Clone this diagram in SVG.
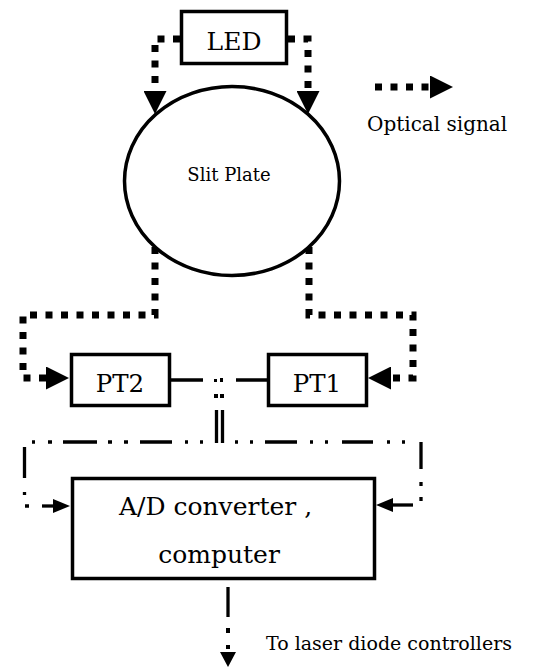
<svg xmlns="http://www.w3.org/2000/svg" width="538" height="669" viewBox="0 0 538 669">
<style>
.box{fill:#fff;stroke:#000;stroke-width:3.5}
.opt{fill:none;stroke:#000;stroke-width:7;stroke-dasharray:7 8.5}
.ln{fill:none;stroke:#000;stroke-width:3.3}
.t{font-family:"DejaVu Serif","Liberation Serif",serif;fill:#000}
</style>
<defs>
<marker id="big" viewBox="0 0 23 23" refX="0" refY="11.5" markerWidth="23" markerHeight="23" markerUnits="userSpaceOnUse" orient="auto">
<path d="M0,0 L23,11.5 L0,23 z" fill="#000"/>
</marker>
<marker id="small" viewBox="0 0 17 14" refX="0" refY="7" markerWidth="17" markerHeight="14" markerUnits="userSpaceOnUse" orient="auto">
<path d="M0,0 L17,7 L0,14 z" fill="#000"/>
</marker>
</defs>
<g id="connectors">
<path class="opt" d="M180,39 H155 V91" marker-end="url(#big)"/>
<path class="opt" d="M288,39 H308 V91" marker-end="url(#big)"/>
<path class="opt" d="M155,247 V315 H23 V378 H46" marker-end="url(#big)"/>
<path class="opt" d="M309,247 V315 H413 V378 H391" marker-end="url(#big)"/>
<path class="ln" stroke-width="3.5" d="M171,380 H203 M236,380 H268"/>
<g fill="#000">
<rect x="214" y="379" width="3" height="3"/>
<rect x="220" y="378" width="3" height="4"/>
<rect x="214" y="394" width="4" height="4"/>
<rect x="220" y="394" width="4" height="4"/>
</g>
<path class="ln" stroke-width="2.6" d="M216.5,410 V443 M222.5,410 V443"/>
<path class="ln" d="M32,442h3 M48,442h4 M63,442h34 M108,442h4 M124,442h4 M140,442h32 M185,442h3 M200,442h3 M24.5,447v31 M24.5,492v3 M25,506h4"/>
<path class="ln" d="M235,442h3 M250,442h3 M265,442h32 M310,442h3 M325,442h3 M342,442h31 M387,442h3 M402,442h3 M421,442v27 M421,482v4 M421,497v4"/>
<path class="ln" d="M42,506 H53" marker-end="url(#small)"/>
<path class="ln" d="M413,505 H393" marker-end="url(#small)"/>
<path class="ln" stroke-width="4.5" d="M228,587 V617"/>
<rect x="226" y="628" width="4" height="5" fill="#000"/>
<rect x="226" y="645" width="4" height="4" fill="#000"/>
<polygon points="220,652 236,652 228,667" fill="#000"/>
<text class="t" x="266" y="650" font-size="19">To laser diode controllers</text>
</g>
<g id="led">
<rect class="box" x="181.5" y="11.5" width="105" height="52"/>
<text class="t" x="234" y="50" font-size="25" text-anchor="middle">LED</text>
</g>
<g id="slit-plate">
<ellipse class="box" cx="232" cy="181" rx="107.5" ry="94.5"/>
<text class="t" x="229" y="181" font-size="18" text-anchor="middle">Slit Plate</text>
</g>
<g id="pt2">
<rect class="box" x="71.5" y="354.5" width="98" height="51"/>
<text class="t" x="120" y="392" font-size="24.5" text-anchor="middle">PT2</text>
</g>
<g id="pt1">
<rect class="box" x="268.5" y="354.5" width="98" height="51"/>
<text class="t" x="317" y="392" font-size="24.5" text-anchor="middle">PT1</text>
</g>
<g id="adc">
<rect class="box" x="72.5" y="478.5" width="302" height="100"/>
<text class="t" x="119" y="515" font-size="25">A/D converter ,</text>
<text class="t" x="219" y="563" font-size="25" text-anchor="middle">computer</text>
</g>
<g id="legend">
<path class="opt" d="M375,87 H430" marker-end="url(#big)"/>
<text class="t" x="367" y="131" font-size="20">Optical signal</text>
</g>
</svg>
